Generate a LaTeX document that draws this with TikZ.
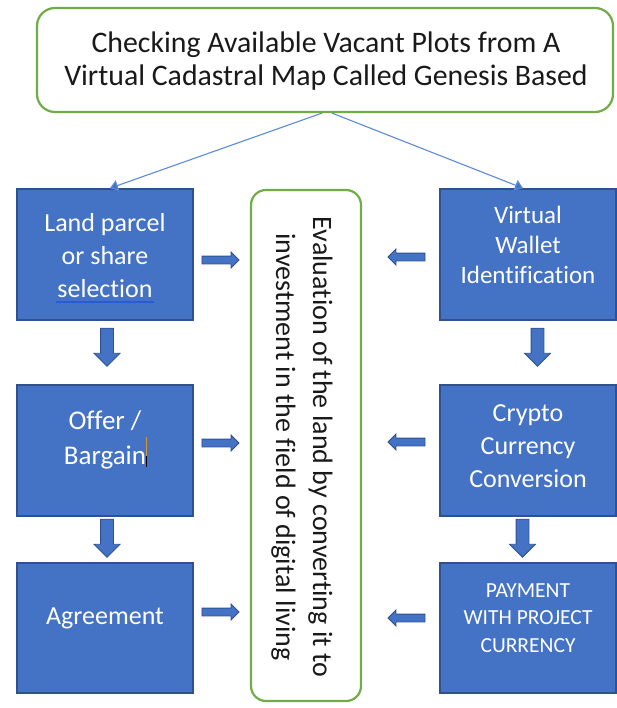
\documentclass[tikz,border=0pt]{standalone}
\usepackage{fontspec}
\setmainfont[Ligatures=NoCommon]{Carlito}
\usetikzlibrary{shapes.arrows,arrows.meta,calc}
\definecolor{boxblue}{HTML}{4472C4}
\definecolor{boxborder}{HTML}{2F528F}
\definecolor{framegreen}{HTML}{70AD47}
\definecolor{linkblue}{HTML}{5B8BD9}
\definecolor{ulblue}{HTML}{2A5BD7}
\definecolor{cursororange}{HTML}{D9962B}
\begin{document}
\begin{tikzpicture}[x=1pt,y=-1pt,
  bluebox/.style={draw=boxborder, fill=boxblue, line width=1.6pt, minimum width=176pt, minimum height=131pt, inner sep=0pt},
  greenbox/.style={draw=framegreen, line width=2.2pt, rounded corners=18pt, inner sep=0pt},
  boxtext/.style={text=white, font=\fontsize{26}{33}\selectfont, align=center, inner sep=0pt},
  vbar/.style={single arrow, draw=boxborder, fill=boxblue, line width=0.8pt, shape border rotate=270,
     minimum height=38pt, inner sep=6pt, single arrow head extend=6.5pt},
  rbar/.style={single arrow, draw=boxborder, fill=boxblue, line width=0.8pt, shape border rotate=0,
     minimum height=37pt, inner sep=3.5pt, single arrow head extend=4pt},
  lbar/.style={rbar, shape border rotate=180},
  link/.style={draw=linkblue, line width=1.1pt, -{Triangle[width=11pt,length=8pt,fill=boxblue]}}
]
\useasboundingbox (0,0) rectangle (617,708);

% top box
\node[greenbox, minimum width=576pt, minimum height=104pt] (top) at (325,60) {};
\node[font=\fontsize{29.8}{33}\selectfont, align=center, inner sep=0pt, text=black!90] (toptext) at (326,61.5)
  {Checking Available Vacant Plots from A\\Virtual Cadastral Map Called Genesis Based};

% centre box
\node[greenbox, rounded corners=15pt, minimum width=110pt, minimum height=511pt] (mid) at (306,445.5) {};
\node[rotate=-90, align=center, inner sep=0pt, text=black!90, font=\fontsize{28}{37}\selectfont] (midtext) at (302,447)
  {Evaluation of the land by converting it to\\investment in the field of digital living};

% left boxes
\node[bluebox] (l1) at (105,254.5) {};
\node[bluebox] (l2) at (105,450.5) {};
\node[bluebox, minimum height=130pt] (l3) at (105,628) {};
% right boxes
\node[bluebox] (r1) at (528,254.5) {};
\node[bluebox] (r2) at (528,450.5) {};
\node[bluebox, minimum height=130pt] (r3) at (528,628) {};

% texts
\node[boxtext] (l1t) at (105,256) {Land parcel\\or share\\selection};
\coordinate (ulL) at ($(l1t.south)+(-49,4)$);
\coordinate (ulR) at ($(l1t.south)+(49,4)$);
\draw[ulblue, line width=1.8pt] (ulL) -- (ulR);
\node[boxtext, font=\fontsize{27}{35}\selectfont] (l2t) at (105,440) {Offer /\\Bargain};
\node[boxtext] (l3t) at (105,618) {Agreement};
\node[boxtext, font=\fontsize{25}{30}\selectfont] (r1t) at (528,245) {Virtual\\Wallet\\Identification};
\node[boxtext] (r2t) at (528,446) {Crypto\\Currency\\Conversion};
\node[boxtext, font=\fontsize{21.5}{27.5}\selectfont] (r3t) at (528,618) {PAYMENT\\WITH PROJECT\\CURRENCY};

% text cursor mark in "Bargain"
\draw[cursororange, line width=0.9pt] (146,437) -- (146,456);
\draw[black, line width=0.9pt] (146,456) -- (146,467);

% links from top box
\draw[link] ([xshift=-3pt]top.south) -- ([xshift=5pt]l1.north);
\draw[link] ([xshift=7pt]top.south) -- ([xshift=-5pt]r1.north);

% block arrows
\node[vbar] (dl1) at (107,344) {};
\node[vbar] (dl2) at (107,535) {};
\node[vbar] (dr1) at (537.5,344) {};
\node[vbar] (dr2) at (522.5,535) {};

\node[rbar] (al1) at (218.5,260) {};
\node[rbar] (al2) at (218.5,443) {};
\node[rbar] (al3) at (218.5,612) {};
\node[lbar] (ar1) at (408.5,257) {};
\node[lbar] (ar2) at (408.5,442) {};
\node[lbar] (ar3) at (408.5,618) {};
\end{tikzpicture}
\end{document}
